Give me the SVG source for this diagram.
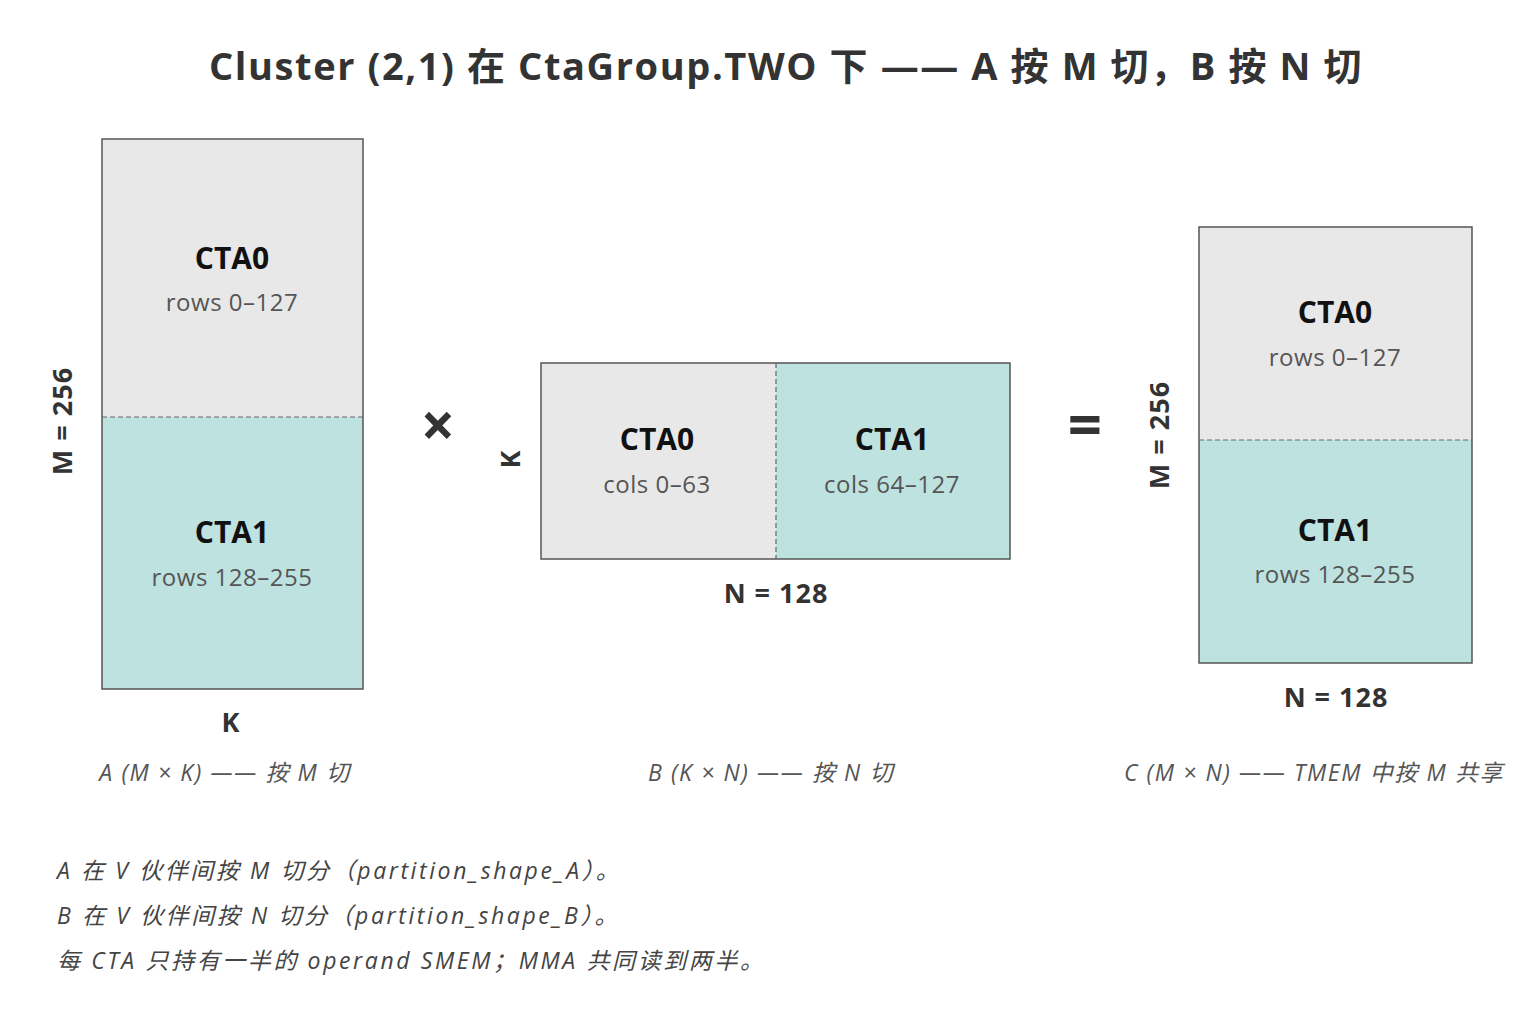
<svg xmlns="http://www.w3.org/2000/svg" width="1536" height="1024" viewBox="0 0 1536 1024">
<style>
text{font-family:"Open Sans","Noto Sans CJK SC",sans-serif;text-anchor:middle}
.t{font-size:38px;font-weight:bold;fill:#333;letter-spacing:1.6px}
.h{font-size:30px;font-weight:bold;fill:#111}
.s{font-size:24px;fill:#555;letter-spacing:0.5px}
.d{font-size:27px;font-weight:bold;fill:#333;letter-spacing:1px}
.c{font-size:23px;font-style:italic;fill:#555;letter-spacing:1.6px}
.n{font-size:23px;font-style:italic;fill:#444;text-anchor:start;letter-spacing:2.6px}
.g{fill:#e8e8e8}.q{fill:#bde2df}
.b{fill:none;stroke:#555;stroke-width:1.5}
.dv{stroke:#666;stroke-width:1.2;stroke-dasharray:5 3}
.op{font-size:60px;font-weight:bold;fill:#333}
</style>
<rect width="1536" height="1024" fill="#fff"/>
<text class="t" x="786" y="80">Cluster (2,1) 在 CtaGroup.TWO 下 —— A 按 M 切，B 按 N 切</text>
<g id="A">
<rect class="g" x="102" y="139" width="261" height="278"/>
<rect class="q" x="102" y="417" width="261" height="272"/>
<line class="dv" x1="102" y1="417" x2="363" y2="417"/>
<rect class="b" x="102" y="139" width="261" height="550"/>
<text class="h" x="232" y="269">CTA0</text>
<text class="s" x="232" y="311">rows 0–127</text>
<text class="h" x="232" y="543">CTA1</text>
<text class="s" x="232" y="586">rows 128–255</text>
<text class="d" transform="translate(72,421) rotate(-90)">M = 256</text>
<text class="d" x="231" y="732">K</text>
<text class="c" x="225" y="781">A (M × K) —— 按 M 切</text>
</g>
<text class="op" x="438" y="447" font-size="78">×</text>
<g id="B">
<rect class="g" x="541" y="363" width="235" height="196"/>
<rect class="q" x="776" y="363" width="234" height="196"/>
<line class="dv" x1="776" y1="363" x2="776" y2="559"/>
<rect class="b" x="541" y="363" width="469" height="196"/>
<text class="h" x="657" y="450">CTA0</text>
<text class="s" x="657" y="493">cols 0–63</text>
<text class="h" x="892" y="450">CTA1</text>
<text class="s" x="892" y="493">cols 64–127</text>
<text class="d" font-size="22" transform="translate(520,459) rotate(-90)">K</text>
<text class="d" x="776" y="603">N = 128</text>
<text class="c" x="771" y="781">B (K × N) —— 按 N 切</text>
</g>
<text class="op" x="1085" y="446" font-size="66">=</text>
<g id="C">
<rect class="g" x="1199" y="227" width="273" height="213"/>
<rect class="q" x="1199" y="440" width="273" height="223"/>
<line class="dv" x1="1199" y1="440" x2="1472" y2="440"/>
<rect class="b" x="1199" y="227" width="273" height="436"/>
<text class="h" x="1335" y="323">CTA0</text>
<text class="s" x="1335" y="366">rows 0–127</text>
<text class="h" x="1335" y="541">CTA1</text>
<text class="s" x="1335" y="583">rows 128–255</text>
<text class="d" transform="translate(1169,435) rotate(-90)">M = 256</text>
<text class="d" x="1336" y="707">N = 128</text>
<text class="c" x="1314" y="781">C (M × N) —— TMEM 中按 M 共享</text>
</g>
<g id="notes">
<text class="n" x="57" y="879">A 在 V 伙伴间按 M 切分（partition_shape_A）。</text>
<text class="n" x="57" y="924">B 在 V 伙伴间按 N 切分（partition_shape_B）。</text>
<text class="n" x="57" y="969">每 CTA 只持有一半的 operand SMEM；MMA 共同读到两半。</text>
</g>
</svg>
